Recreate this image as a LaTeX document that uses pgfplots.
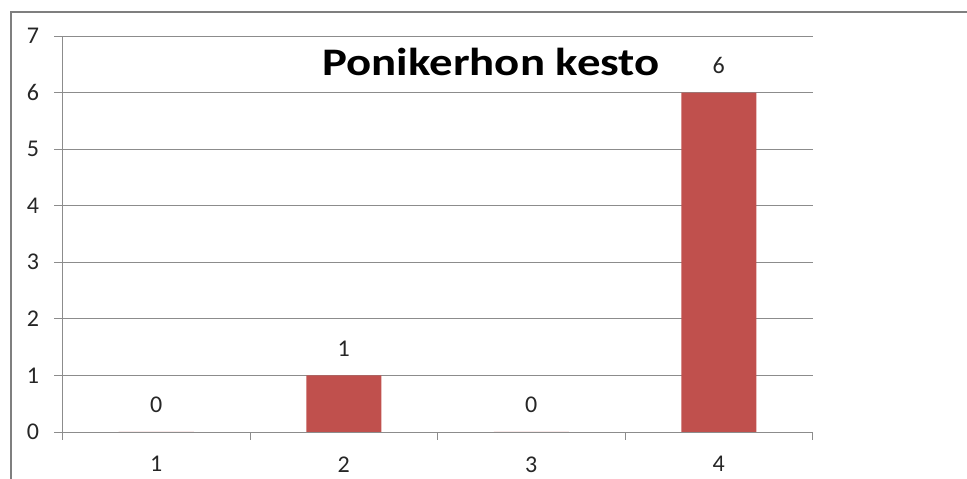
\documentclass[border=0pt]{standalone}
\usepackage{pgfplots}
\pgfplotsset{compat=1.18}
\usepackage{fontspec}
\setmainfont{Carlito}
\definecolor{barred}{HTML}{C0504D}
\definecolor{gridgray}{HTML}{8C8C8C}
\definecolor{framegray}{HTML}{7F7F7F}
\begin{document}
\begin{tikzpicture}[x=1pt,y=1pt]
\path[use as bounding box] (0,0) rectangle (967,479);
\draw[color=framegray, line width=2pt] (11,-5) -- (11,467) -- (975,467);
\node[anchor=base, xscale=1.2, font=\fontsize{39}{44}\selectfont\bfseries] at (491,403) {Ponikerhon kesto};
\begin{axis}[
  at={(62.5pt,47pt)}, anchor=south west,
  scale only axis, width=750pt, height=396pt,
  xmin=0.5, xmax=4.5, ymin=0, ymax=7,
  ytick={0,1,2,3,4,5,6,7},
  ymajorgrids, grid style={gridgray, line width=0.8pt},
  axis x line*=bottom, axis y line*=left,
  axis line style={gridgray, line width=0.8pt},
  tick style={gridgray, line width=0.8pt},
  tick align=outside, major tick length=8pt,
  xtick={0.5,1.5,2.5,3.5,4.5}, xticklabels={},
  extra x ticks={1,2,3,4}, extra x tick labels={1,2,3,4},
  extra x tick style={major tick length=0pt, xticklabel style={yshift=-21pt}},
  ticklabel style={font=\fontsize{24}{28}\selectfont, text=black!85},
  /pgf/number format/assume math mode=true,
  yticklabel style={xshift=-12pt},
  ybar, bar width=75pt,
  nodes near coords,
  nodes near coords style={font=\fontsize{24}{28}\selectfont, text=black!85, anchor=south, inner sep=0pt, yshift=19pt},
]
\addplot[fill=barred, draw=none] coordinates {(1,0) (2,1) (3,0) (4,6)};
\end{axis}
\end{tikzpicture}
\end{document}
